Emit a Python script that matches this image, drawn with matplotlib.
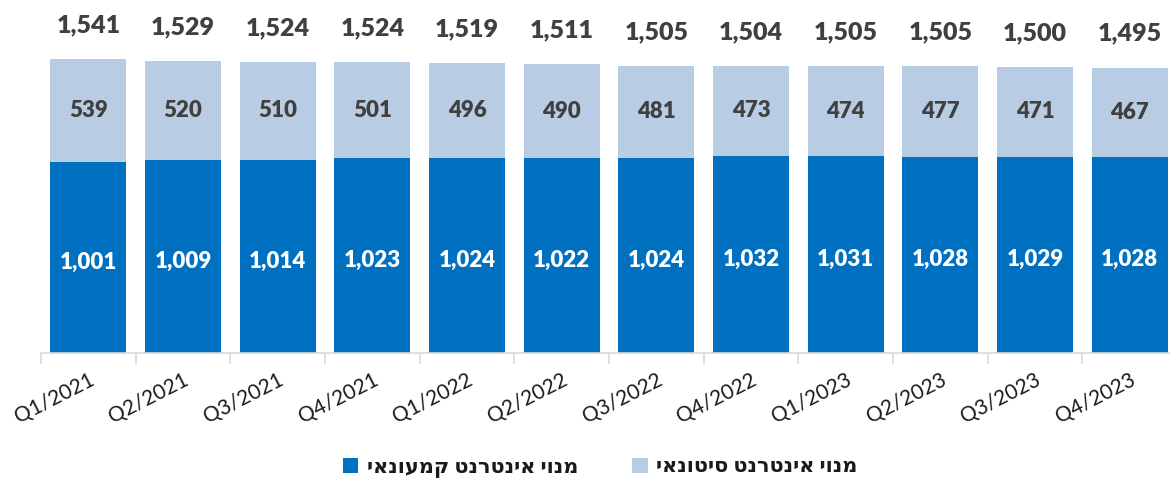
import matplotlib
matplotlib.use("Agg")
import matplotlib.pyplot as plt
import numpy as np

quarters = ["Q1/2021", "Q2/2021", "Q3/2021", "Q4/2021", "Q1/2022", "Q2/2022",
            "Q3/2022", "Q4/2022", "Q1/2023", "Q2/2023", "Q3/2023", "Q4/2023"]
retail = [1001, 1009, 1014, 1023, 1024, 1022, 1024, 1032, 1031, 1028, 1029, 1028]
wholesale = [539, 520, 510, 501, 496, 490, 481, 473, 474, 477, 471, 467]
totals = [1541, 1529, 1524, 1524, 1519, 1511, 1505, 1504, 1505, 1505, 1500, 1495]
retail_label = "מנוי אינטרנט קמעונאי"
wholesale_label = "מנוי אינטרנט סיטונאי"

def vis(s):
    # matplotlib has no bidi support: give visual (left-to-right) order
    return s[::-1]

plt.rcParams['font.family'] = ['Lato', 'DejaVu Sans']

dark = "#0070C0"
light = "#B8CCE4"
grey_txt = "#404040"

fig = plt.figure(figsize=(11.70, 4.83), dpi=100)
ax = fig.add_axes([41/1170, 1 - 353/483, (1177-41)/1170, 353/483])

x = np.arange(len(quarters))
b1 = ax.bar(x, retail, width=0.8, color=dark, label=vis(retail_label))
b2 = ax.bar(x, wholesale, width=0.8, bottom=retail, color=light, label=vis(wholesale_label))

for i in range(len(quarters)):
    ax.text(x[i], retail[i] / 2 - 25, f"{retail[i]:,}", ha='center', va='center',
            color='white', fontsize=16, fontweight='heavy')
    ax.text(x[i], retail[i] + wholesale[i] / 2, f"{wholesale[i]:,}", ha='center', va='center',
            color=grey_txt, fontsize=16, fontweight='heavy')
    ax.text(x[i], totals[i] + 178, f"{totals[i]:,}", ha='center', va='center',
            color=grey_txt, fontsize=18, fontweight='heavy')

ax.set_xlim(-0.5, len(quarters) - 0.5)
ax.set_ylim(0, 1850)
for s in ['top', 'right', 'left']:
    ax.spines[s].set_visible(False)
ax.spines['bottom'].set_color('#D9D9D9')
ax.spines['bottom'].set_linewidth(1.2)
ax.set_yticks([])
ax.set_xticks(x)
ax.set_xticklabels(quarters, rotation=27, ha='right', rotation_mode='anchor',
                   fontsize=15, color='#1a1a1a')
ax.tick_params(axis='x', which='major', length=0, pad=12)
ax.set_xticks(np.arange(-0.5, len(quarters), 1.0), minor=True)
ax.tick_params(axis='x', which='minor', length=8, color='#D9D9D9', width=1.2)

leg = fig.legend(handles=[b1, b2], loc='center', bbox_to_anchor=(600/1170, 1 - 467/483),
                 ncol=2, frameon=False, fontsize=15, handlelength=0.75, handleheight=0.75,
                 handletextpad=0.4, columnspacing=2.6)
for t in leg.get_texts():
    t.set_fontweight('bold')
    t.set_color('#1a1a1a')

fig.savefig("out.png", dpi=100)
